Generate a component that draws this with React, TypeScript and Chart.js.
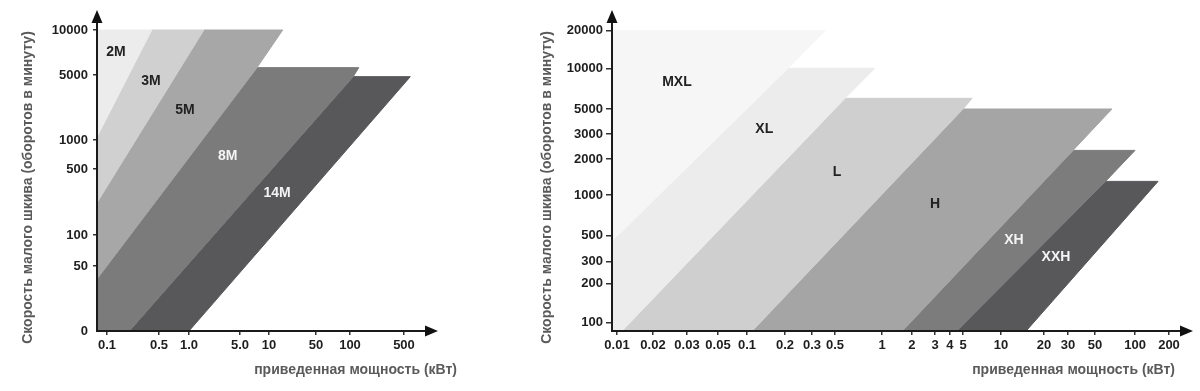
import React, { useEffect, useRef } from 'react';
import { Chart, registerables, Scale } from 'chart.js';

// ---------------- DATA: left panel (2M…14M) ----------------
const leftXTickValues = [0.1, 0.5, 1, 5, 10, 50, 100, 500];
const leftXTickLabels = ['0.1', '0.5', '1.0', '5.0', '10', '50', '100', '500'];
const leftYTickValues = [0, 50, 100, 500, 1000, 5000, 10000];
const leftYTickLabels = ['0', '50', '100', '500', '1000', '5000', '10000'];
const leftBandNames = ['2M', '3M', '5M', '8M', '14M'];
// band outlines: [power kW, rpm]
const band2M = [[0.07, 10000], [0.4, 10000], [0.07, 1080]];
const band3M = [[0.07, 1080], [0.4, 10000], [1.6, 10000], [0.07, 220]];
const band5M = [[0.07, 220], [1.6, 10000], [16, 10000], [7.5, 5600], [0.07, 40]];
const band8M = [[0.07, 40], [7.5, 5600], [130, 5600], [110, 4800], [0.2, 0], [0.07, 0]];
const band14M = [[0.2, 0], [110, 4800], [610, 4800], [1.0, 0]];
const leftLabelAt = [[0.132, 7130], [0.39, 4310], [0.91, 2100], [3.4, 682], [13.2, 278]];

// ---------------- DATA: right panel (MXL…XXH) ----------------
const rightXTickValues = [0.01, 0.02, 0.03, 0.05, 0.1, 0.2, 0.3, 0.5, 1, 2, 3, 4, 5, 10, 20, 30, 50, 100, 200];
const rightXTickLabels = ['0.01', '0.02', '0.03', '0.05', '0.1', '0.2', '0.3', '0.5', '1', '2', '3', '4', '5', '10', '20', '30', '50', '100', '200'];
const rightYTickValues = [100, 200, 300, 500, 1000, 2000, 3000, 5000, 10000, 20000];
const rightYTickLabels = ['100', '200', '300', '500', '1000', '2000', '3000', '5000', '10000', '20000'];
const rightBandNames = ['MXL', 'XL', 'L', 'H', 'XH', 'XXH'];
const bandMXL = [[0.009, 20000], [0.4, 20000], [0.21, 10000], [0.009, 450]];
const bandXL = [[0.009, 450], [0.21, 10000], [0.9, 10000], [0.58, 6000], [0.011, 85], [0.009, 85]];
const bandL = [[0.011, 85], [0.58, 6000], [5.9, 6000], [5, 5000], [0.11, 85]];
const bandH = [[0.11, 85], [5, 5000], [67, 5000], [33, 2300], [1.6, 85]];
const bandXH = [[1.6, 85], [33, 2300], [100, 2300], [60, 1300], [4.5, 85]];
const bandXXH = [[4.5, 85], [50, 1300], [160, 1300], [15, 85]];
const rightLabelAt = [[0.0266, 7960], [0.137, 3320], [0.515, 1566], [3.0, 858], [12.3, 459], [24.5, 329]];

// ---------------- STYLE / AXIS LAYOUT ----------------
const leftBandColors = ['#ececec', '#d0d0d0', '#a7a7a7', '#7b7b7b', '#58575a'];
const leftLabelColors = ['#222', '#222', '#222', '#f4f4f4', '#f4f4f4'];
const rightBandColors = ['#f6f6f6', '#ececec', '#cfcfcf', '#a5a5a5', '#7c7c7c', '#58585a'];
const rightLabelColors = ['#222', '#222', '#222', '#222', '#f4f4f4', '#f4f4f4'];

// hand-drawn (non-uniform) axes: relative position of every tick along its axis
const leftXAxis = { min: 0.07, max: 1000, at: [0.0304, 0.1884, 0.2796, 0.4347, 0.5228, 0.6657, 0.769, 0.9331] };
const leftYAxis = { min: 0, max: 11300, at: [0, 0.2104, 0.3107, 0.5243, 0.6181, 0.8285, 0.9741] };
const rightXAxis = {
  min: 0.009, max: 250,
  at: [0.0088, 0.0721, 0.1318, 0.1863, 0.2373, 0.304, 0.3515, 0.3919, 0.4745, 0.5272, 0.5677, 0.594, 0.6169, 0.6837, 0.7592, 0.8014, 0.8489, 0.9192, 0.9789],
};
const rightYAxis = { min: 85, max: 23400, at: [0.0282, 0.1544, 0.2243, 0.3084, 0.4401, 0.5566, 0.6375, 0.7184, 0.8502, 0.9718] };

const Y_TITLE = 'Скорость малого шкива (оборотов в минуту)';
const X_TITLE = 'приведенная мощность (кВт)';
const FONT = '"Liberation Sans", Arial, sans-serif';

// ---------------- custom piecewise-log scale ----------------
type Anchor = { v: number; f: number };
function segT(v: number, a: Anchor, b: Anchor) {
  if (a.v > 0 && b.v > 0) return (Math.log(v) - Math.log(a.v)) / (Math.log(b.v) - Math.log(a.v));
  return (v - a.v) / (b.v - a.v);
}
function fracOf(v: number, an: Anchor[]) {
  let i = 0;
  while (i < an.length - 2 && v > an[i + 1].v) i++;
  const a = an[i], b = an[i + 1];
  return a.f + segT(v, a, b) * (b.f - a.f);
}
function valueOf(f: number, an: Anchor[]) {
  let i = 0;
  while (i < an.length - 2 && f > an[i + 1].f) i++;
  const a = an[i], b = an[i + 1];
  const t = (f - a.f) / (b.f - a.f);
  if (a.v > 0 && b.v > 0) return Math.exp(Math.log(a.v) + t * (Math.log(b.v) - Math.log(a.v)));
  return a.v + t * (b.v - a.v);
}

class AnchoredScale extends Scale {
  static id = 'anchored';
  static defaults = {};
  declare _anchors: Anchor[];
  determineDataLimits() {
    const o: any = this.options;
    const list: Anchor[] = [{ v: o.min, f: 0 }];
    const vals: number[] = o.tickValues;
    const at: number[] = o.tickAt;
    for (let i = 0; i < vals.length; i++) {
      if (at[i] > 1e-9 && at[i] < 1 - 1e-9) list.push({ v: vals[i], f: at[i] });
    }
    list.push({ v: o.max, f: 1 });
    (this as any)._anchors = list;
    this.min = o.min;
    this.max = o.max;
  }
  buildTicks() {
    const o: any = this.options;
    return o.tickValues.map((v: number, i: number) => ({ value: v, label: o.tickLabels[i] }));
  }
  generateTickLabels(ticks: any[]) {
    const o: any = this.options;
    ticks.forEach((t, i) => { t.label = o.tickLabels[i]; });
  }
  getLabelForValue(v: number) { return String(v); }
  getPixelForValue(v: number) { return this.getPixelForDecimal(fracOf(v, (this as any)._anchors)); }
  getValueForPixel(p: number) { return valueOf(this.getDecimalForPixel(p), (this as any)._anchors); }
}

Chart.register(...registerables, AnchoredScale as any);

type PanelCfg = {
  width: number;
  yWidth: number;
  padRight: number;
  xTicks: number[]; xLabels: string[]; xAxis: { min: number; max: number; at: number[] };
  yTicks: number[]; yLabels: string[]; yAxis: { min: number; max: number; at: number[] };
  bands: number[][][]; names: string[]; colors: string[]; labelColors: string[]; labelAt: number[][];
  yTickLen: number; yTickPad: number;
  yTitleX: number; xTitleRight: number;
};

function buildChart(canvas: HTMLCanvasElement, c: PanelCfg) {
  const datasets = c.bands.map((pts, i) => ({
    label: c.names[i],
    data: [...pts, pts[0]].map(([x, y]) => ({ x, y })),
    showLine: true,
    fill: 'shape',
    backgroundColor: c.colors[i],
    borderColor: c.colors[i],
    borderWidth: 1,
    pointRadius: 0,
    tension: 0,
  }));

  const decor = {
    id: 'decor',
    afterDraw(chart: any) {
      const { ctx, chartArea: a, scales } = chart;
      ctx.save();
      // arrow heads
      ctx.fillStyle = '#111';
      ctx.beginPath();
      ctx.moveTo(a.right - 1, a.bottom - 5.5);
      ctx.lineTo(a.right + 12, a.bottom);
      ctx.lineTo(a.right - 1, a.bottom + 5.5);
      ctx.closePath();
      ctx.fill();
      ctx.beginPath();
      ctx.moveTo(a.left - 5.5, a.top + 1);
      ctx.lineTo(a.left, a.top - 12);
      ctx.lineTo(a.left + 5.5, a.top + 1);
      ctx.closePath();
      ctx.fill();
      // band names
      ctx.font = `bold 14px ${FONT}`;
      ctx.textAlign = 'center';
      ctx.textBaseline = 'middle';
      c.names.forEach((n, i) => {
        const [lx, ly] = c.labelAt[i];
        ctx.fillStyle = c.labelColors[i];
        ctx.fillText(n, scales.x.getPixelForValue(lx), scales.y.getPixelForValue(ly));
      });
      // axis titles
      ctx.fillStyle = '#5a5a5a';
      ctx.font = `bold 14px ${FONT}`;
      ctx.textAlign = 'right';
      ctx.fillText(X_TITLE, c.xTitleRight, 370);
      ctx.translate(c.yTitleX, 187.5);
      ctx.rotate(-Math.PI / 2);
      ctx.textAlign = 'center';
      ctx.fillText(Y_TITLE, 0, 0);
      ctx.restore();
    },
  };

  const tickFont = { family: FONT, size: 13, weight: 'bold' as const };
  return new Chart(canvas, {
    type: 'scatter',
    data: { datasets: datasets as any },
    plugins: [decor],
    options: {
      responsive: false,
      animation: false,
      devicePixelRatio: 1,
      events: [],
      layout: { padding: { top: 22, right: c.padRight, bottom: 0, left: 0 } },
      plugins: { legend: { display: false }, tooltip: { enabled: false } },
      scales: {
        x: {
          type: 'anchored' as any,
          position: 'bottom',
          min: c.xAxis.min,
          max: c.xAxis.max,
          tickValues: c.xTicks,
          tickLabels: c.xLabels,
          tickAt: c.xAxis.at,
          afterFit: (s: any) => { s.height = 60; },
          grid: { display: true, drawOnChartArea: false, drawTicks: true, tickLength: 4, color: '#333', lineWidth: 1.5 },
          border: { display: true, color: '#1a1a1a', width: 2, z: 1 },
          ticks: { autoSkip: false, maxRotation: 0, minRotation: 0, padding: 3, color: '#1e1e1e', font: tickFont },
        } as any,
        y: {
          type: 'anchored' as any,
          position: 'left',
          min: c.yAxis.min,
          max: c.yAxis.max,
          tickValues: c.yTicks,
          tickLabels: c.yLabels,
          tickAt: c.yAxis.at,
          afterFit: (s: any) => { s.width = c.yWidth; },
          grid: {
            display: true, drawOnChartArea: false, drawTicks: true, tickLength: c.yTickLen, lineWidth: 1.5,
            color: (ctx: any) => (ctx.tick && ctx.tick.value === 0 ? 'rgba(0,0,0,0)' : '#333'),
          },
          border: { display: true, color: '#1a1a1a', width: 2, z: 1 },
          ticks: { autoSkip: false, padding: c.yTickPad, color: '#1e1e1e', font: tickFont },
        } as any,
      },
    } as any,
  });
}

function Panel({ cfg, left }: { cfg: PanelCfg; left: number }) {
  const ref = useRef<HTMLCanvasElement>(null);
  useEffect(() => {
    const chart = buildChart(ref.current as HTMLCanvasElement, cfg);
    return () => chart.destroy();
  }, []);
  return (
    <div style={{ position: 'absolute', left, top: 0, width: cfg.width, height: 391 }}>
      <canvas ref={ref} width={cfg.width} height={391} style={{ display: 'block' }} />
    </div>
  );
}

const leftCfg: PanelCfg = {
  width: 470, yWidth: 97, padRight: 44,
  xTicks: leftXTickValues, xLabels: leftXTickLabels, xAxis: leftXAxis,
  yTicks: leftYTickValues, yLabels: leftYTickLabels, yAxis: leftYAxis,
  bands: [band2M, band3M, band5M, band8M, band14M],
  names: leftBandNames, colors: leftBandColors, labelColors: leftLabelColors, labelAt: leftLabelAt,
  yTickLen: 4, yTickPad: 5,
  yTitleX: 28, xTitleRight: 457,
};

const rightCfg: PanelCfg = {
  width: 730, yWidth: 142, padRight: 19,
  xTicks: rightXTickValues, xLabels: rightXTickLabels, xAxis: rightXAxis,
  yTicks: rightYTickValues, yLabels: rightYTickLabels, yAxis: rightYAxis,
  bands: [bandMXL, bandXL, bandL, bandH, bandXH, bandXXH],
  names: rightBandNames, colors: rightBandColors, labelColors: rightLabelColors, labelAt: rightLabelAt,
  yTickLen: 6, yTickPad: 3,
  yTitleX: 77, xTitleRight: 705,
};

export default function App() {
  return (
    <div style={{ position: 'absolute', left: 0, top: 0, width: 1200, height: 391, background: '#fff', overflow: 'hidden' }}>
      <Panel cfg={leftCfg} left={0} />
      <Panel cfg={rightCfg} left={470} />
    </div>
  );
}
